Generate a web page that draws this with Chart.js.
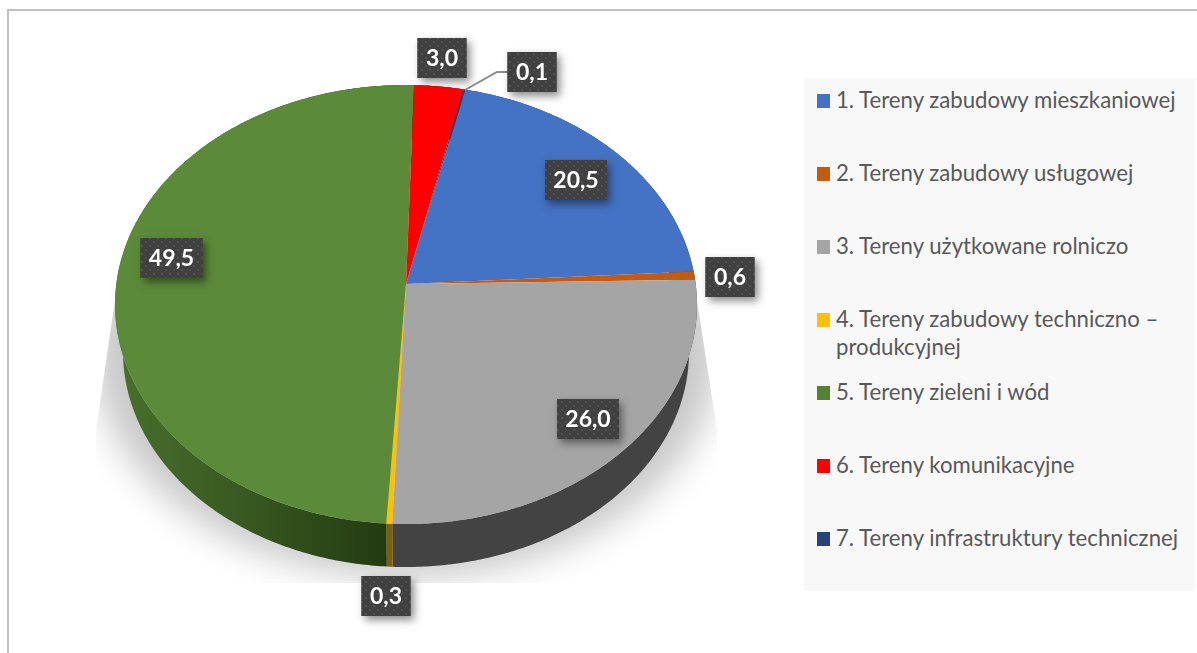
<!DOCTYPE html>
<html lang="pl">
<head>
<meta charset="utf-8">
<title>Tereny</title>
<script src="https://cdn.jsdelivr.net/npm/chart.js@4/dist/chart.umd.js"></script>
<style>
    html, body { margin: 0; padding: 0; background: #fff; }
    #wrap { position: relative; width: 1197px; height: 653px; overflow: hidden; }
    #frame { position: absolute; left: 7px; top: 9px; right: -5px; bottom: -5px; border: 1px solid #c0c0c0; border-top-width: 2px; border-left-width: 2px; }
    #chart { position: absolute; left: 0; top: 0; }
    #legend { position: absolute; left: 804px; top: 78px; width: 391px; height: 513px; background: #f8f8f8; }
    .item { position: absolute; left: 32px; width: 354px; font: 22.2px/28px Lato, sans-serif; color: #595959; }
    .item i { position: absolute; left: -19px; top: 8px; width: 13px; height: 14px; }
</style>
</head>
<body>
<div id="wrap">
    <div id="frame"></div>
    <canvas id="chart" width="1197" height="653"></canvas>
    <div id="legend"></div>
</div>
<script>
// Sample data
const categories = [
    '1. Tereny zabudowy mieszkaniowej',
    '2. Tereny zabudowy usługowej',
    '3. Tereny użytkowane rolniczo',
    '4. Tereny zabudowy techniczno – produkcyjnej',
    '5. Tereny zieleni i wód',
    '6. Tereny komunikacyjne',
    '7. Tereny infrastruktury technicznej'
];
const shares = [20.5, 0.6, 26.0, 0.3, 49.5, 3.0, 0.1];
const sliceColors = ['#4472c4', '#c55a11', '#a5a5a5', '#ffc000', '#5b8a39', '#ff0000', '#264478'];
const wallColors = ['#2a4a86', '#7a3a0c', '#434343', '#7f6000', '#2f4a1b', '#990000', '#182c4e'];

// Label box centres, same order as shares
const labelCentres = [[576, 180], [730, 277], [588, 419], [386, 596], [171.5, 258], [442, 58], [532, 72]];

// Perspective of the pie top; the library's flat pie is projected through this
const TILT = -0.0934;
const X_SCALE = 289.7 / 199;
const Y_SCALE = 217.6 / 199;

function project(arc, angle) {
    const r = arc.outerRadius;
    const X = Math.cos(angle), Y = Math.sin(angle);
    const d = 1 + TILT * Y;
    return [arc.x + X_SCALE * r * X / d, arc.y + Y_SCALE * r * Y / d];
}

// Bottom rim is the same rim, a bit smaller and lower
function lower(p) {
    return [406 + (p[0] - 406) * 283 / 291, 352 + (p[1] - 304.5) * 215 / 219.5];
}

function rimPoints(arc) {
    const pts = [];
    const n = Math.max(2, Math.ceil((arc.endAngle - arc.startAngle) / 0.01));
    for (let i = 0; i <= n; i++) {
        pts.push(project(arc, arc.startAngle + (arc.endAngle - arc.startAngle) * i / n));
    }
    return pts;
}

function drawShadow(ctx) {
    ctx.save();
    ctx.beginPath();
    ctx.moveTo(115, 300);
    ctx.lineTo(96, 430);
    ctx.lineTo(96, 583);
    ctx.lineTo(717, 583);
    ctx.lineTo(717, 430);
    ctx.lineTo(697, 300);
    ctx.closePath();
    ctx.clip();
    // only the blur lands on the canvas, the ellipse itself sits off to the side
    ctx.shadowColor = '#c8c8c8';
    ctx.shadowBlur = 36;
    ctx.shadowOffsetX = 2000;
    ctx.fillStyle = '#000';
    ctx.beginPath();
    ctx.ellipse(406 - 2000, 352, 312, 225, 0, 0, Math.PI * 2);
    ctx.fill();
    ctx.restore();
}

function drawWalls(ctx, arcs) {
    arcs.forEach((arc, i) => {
        const top = rimPoints(arc);
        ctx.beginPath();
        top.forEach((p, k) => k ? ctx.lineTo(p[0], p[1]) : ctx.moveTo(p[0], p[1]));
        top.slice().reverse().forEach(p => {
            const q = lower(p);
            ctx.lineTo(q[0], q[1]);
        });
        ctx.closePath();
        if (i === 4) {
            const g = ctx.createLinearGradient(115, 0, 390, 0);
            g.addColorStop(0, '#48702c');
            g.addColorStop(0.5, '#375720');
            g.addColorStop(1, '#223a10');
            ctx.fillStyle = g;
        } else {
            ctx.fillStyle = wallColors[i];
        }
        ctx.fill();
    });
}

function drawFaces(ctx, arcs) {
    arcs.forEach((arc, i) => {
        ctx.beginPath();
        ctx.moveTo(arc.x, arc.y);
        rimPoints(arc).forEach(p => ctx.lineTo(p[0], p[1]));
        ctx.closePath();
        ctx.fillStyle = sliceColors[i];
        ctx.fill();
    });
}

function dotPattern(ctx) {
    const tile = document.createElement('canvas');
    tile.width = tile.height = 8;
    const t = tile.getContext('2d');
    t.fillStyle = '#404040';
    t.fillRect(0, 0, 8, 8);
    t.fillStyle = '#505050';
    t.fillRect(1, 1, 2, 2);
    t.fillRect(5, 5, 2, 2);
    return ctx.createPattern(tile, 'repeat');
}

function drawLabels(ctx) {
    // leader line of the smallest slice
    ctx.strokeStyle = '#8c8c8c';
    ctx.lineWidth = 2;
    ctx.beginPath();
    ctx.moveTo(465, 90);
    ctx.lineTo(497, 72);
    ctx.lineTo(510, 72);
    ctx.stroke();

    const fill = dotPattern(ctx);
    ctx.font = 'bold 23px Lato, sans-serif';
    ctx.textAlign = 'center';
    ctx.textBaseline = 'middle';
    shares.forEach((v, i) => {
        const text = v.toFixed(1).replace('.', ',');
        const w = text.length > 3 ? 62 : 49;
        const h = 40;
        const [cx, cy] = labelCentres[i];
        ctx.save();
        ctx.shadowColor = 'rgba(0,0,0,0.45)';
        ctx.shadowBlur = 8;
        ctx.shadowOffsetX = 3;
        ctx.shadowOffsetY = 4;
        ctx.fillStyle = '#404040';
        ctx.fillRect(cx - w / 2, cy - h / 2, w, h);
        ctx.restore();
        ctx.fillStyle = fill;
        ctx.fillRect(cx - w / 2, cy - h / 2, w, h);
        ctx.fillStyle = '#ffffff';
        ctx.fillText(text, cx, cy + 1);
    });
}

const tiltedPie = {
    id: 'tiltedPie',
    beforeDatasetsDraw(chart) {
        const ctx = chart.ctx;
        const arcs = chart.getDatasetMeta(0).data;
        drawShadow(ctx);
        drawWalls(ctx, arcs);
        drawFaces(ctx, arcs);
        drawLabels(ctx);
        return false;
    }
};

const chart = new Chart(document.getElementById('chart'), {
    type: 'pie',
    data: {
        labels: categories,
        datasets: [{ data: shares, backgroundColor: sliceColors, borderWidth: 0 }]
    },
    options: {
        responsive: false,
        animation: false,
        rotation: 12.9,
        // keeps the library's pie centre at 406,284 and its radius at 199
        layout: { padding: { left: 115, right: 500, top: 85, bottom: 170 } },
        plugins: {
            legend: { display: false },
            tooltip: { enabled: false }
        }
    },
    plugins: [tiltedPie]
});

// Legend
const legendBox = document.getElementById('legend');
categories.forEach((name, i) => {
    const item = document.createElement('div');
    item.className = 'item';
    item.style.top = (8 + i * 73) + 'px';
    const swatch = document.createElement('i');
    swatch.style.background = i === 4 ? '#548235' : sliceColors[i];
    item.appendChild(swatch);
    item.appendChild(document.createTextNode(name));
    legendBox.appendChild(item);
});
</script>
</body>
</html>
